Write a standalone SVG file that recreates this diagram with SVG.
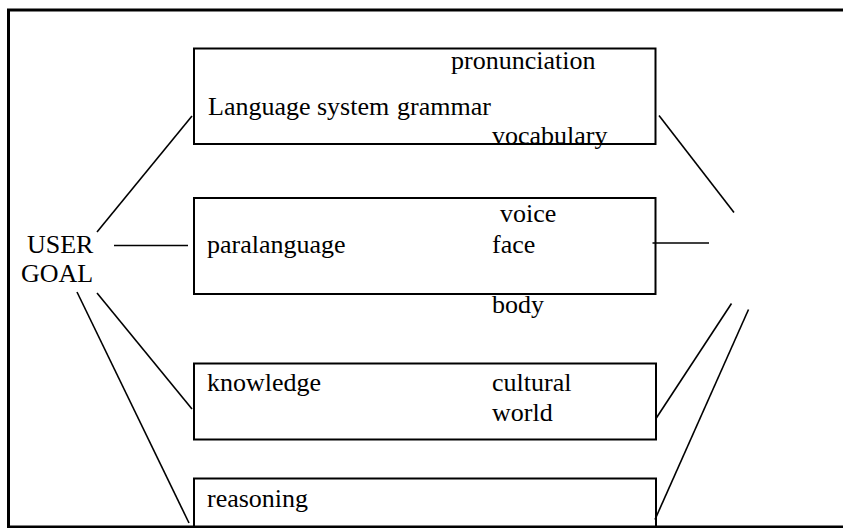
<svg xmlns="http://www.w3.org/2000/svg" width="843" height="528" viewBox="0 0 843 528">
<style>
.box{fill:none;stroke:#000;stroke-width:2}
.ln{stroke:#000;stroke-width:1.6;fill:none}
.frame{fill:none;stroke:#000;stroke-width:3}
text{font-family:"Liberation Serif","Times New Roman",serif;font-size:26px;fill:#000}
</style>
<rect x="0" y="0" width="843" height="528" fill="#fff"/>
<path class="frame" d="M843,10 H8.5 V527 H843"/>
<g id="user-goal">
<text x="27" y="253">USER</text>
<text x="21" y="282">GOAL</text>
</g>
<g id="language-system">
<rect class="box" x="194" y="48.5" width="461.5" height="95.5"/>
<text x="208" y="115">Language system</text>
<text x="397" y="115">grammar</text>
<text x="451" y="69">pronunciation</text>
<text x="492" y="144">vocabulary</text>
</g>
<g id="paralanguage">
<rect class="box" x="194" y="198" width="461.5" height="96"/>
<text x="207" y="253">paralanguage</text>
<text x="500" y="222">voice</text>
<text x="492" y="253">face</text>
<text x="492" y="313">body</text>
</g>
<g id="knowledge">
<rect class="box" x="194" y="363.5" width="462" height="76"/>
<text x="207" y="391">knowledge</text>
<text x="492" y="391">cultural</text>
<text x="492" y="421">world</text>
</g>
<g id="reasoning">
<path class="box" d="M194,527 V478.5 H656 V527"/>
<text x="207" y="507">reasoning</text>
</g>
<g id="connectors">
<line class="ln" x1="97" y1="232" x2="192" y2="116"/>
<line class="ln" x1="114" y1="245.5" x2="188" y2="245.5"/>
<line class="ln" x1="97" y1="293" x2="192" y2="409"/>
<line class="ln" x1="77" y1="292" x2="189" y2="523"/>
<line class="ln" x1="659" y1="115.5" x2="734" y2="212.5"/>
<line class="ln" x1="652.5" y1="243" x2="709" y2="243"/>
<line class="ln" x1="656" y1="418.5" x2="731.5" y2="303.5"/>
<line class="ln" x1="655" y1="519.5" x2="748.5" y2="309.5"/>
</g>
</svg>
